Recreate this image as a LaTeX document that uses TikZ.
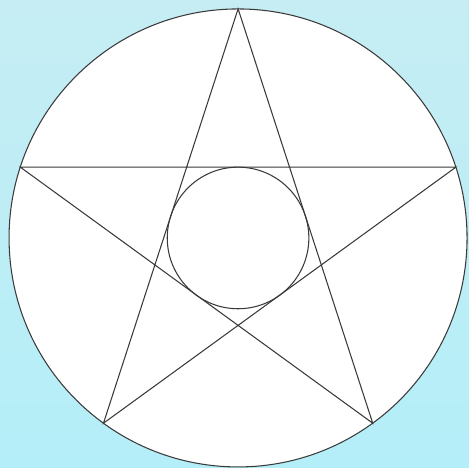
\documentclass[tikz,border=0pt]{standalone}
\usepackage{tikz}
\usetikzlibrary{calc}
\definecolor{PaperCyan}{HTML}{C6EDF4}
\definecolor{PaperCyanLow}{HTML}{B4EEF8}
\definecolor{InkGray}{HTML}{3A3A3A}

\begin{document}
\begin{tikzpicture}[scale=0.02,line width=0.6pt,draw=InkGray]
  \shade[top color=PaperCyan,bottom color=PaperCyanLow] (0,0) rectangle (469,468);
  \useasboundingbox (0,0) rectangle (469,468);
  \coordinate (centre) at (238,230);
  \filldraw[fill=white,draw=InkGray] (centre) circle (229);
  \foreach \k in {0,...,4}
    \coordinate (tip\k) at ($(centre)+(90+72*\k:229)$);
  \draw[InkGray] (tip0) -- (tip2) -- (tip4) -- (tip1) -- (tip3) -- cycle;
  \draw[InkGray] (centre) circle (70.8);
\end{tikzpicture}
\end{document}
